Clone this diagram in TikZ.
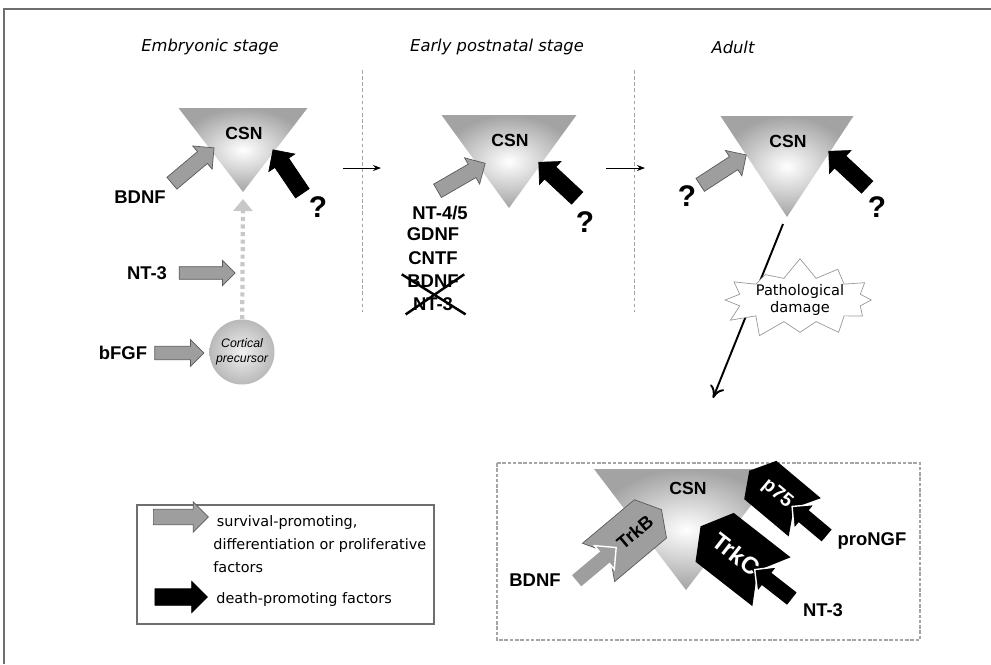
\documentclass[tikz,border=0pt]{standalone}
\usepackage{fontspec}
\setmainfont{Liberation Sans}
\newfontfamily\comicfont{DejaVu Sans}
\usepackage{tikz}
\usetikzlibrary{shapes.arrows, shapes.symbols, arrows.meta}

\definecolor{framegray}{RGB}{110,110,110}
\definecolor{sepgray}{RGB}{165,165,165}
\definecolor{hatchgray}{RGB}{158,158,158}
\definecolor{hatchline}{RGB}{90,90,90}
\definecolor{dotgray}{RGB}{200,200,200}

\tikzset{
  csnshade/.style   = {inner color=white, outer color=gray!72},
  csnlabel/.style   = {font=\bfseries\fontsize{10}{12}\selectfont, inner sep=1pt},
  factor/.style     = {font=\bfseries\fontsize{10.5}{12}\selectfont, inner sep=1pt},
  query/.style      = {font=\bfseries\fontsize{17}{19}\selectfont, inner sep=0pt},
  stage/.style      = {font=\comicfont\itshape\fontsize{9.3}{11}\selectfont},
  legendtext/.style = {font=\comicfont\fontsize{8.2}{13}\selectfont, align=left, anchor=west, inner sep=0pt},
  survival/.style   = {single arrow, draw=hatchline, line width=0.4pt, fill=hatchgray, inner sep=4.2pt,
                       single arrow head extend=4.2pt, minimum height=#1},
  survival/.default = 1.1cm,
  death/.style      = {single arrow, draw=black, fill=black, inner sep=4.5pt,
                       single arrow head extend=4.2pt, minimum height=#1},
  death/.default    = 1.05cm,
  receptor/.style   = {signal, signal pointer angle=120, inner sep=0pt},
  stagesep/.style   = {sepgray, line width=0.5pt, dash pattern=on 2pt off 1.5pt},
  stagearrow/.style = {-{Stealth[length=1.6mm]}, line width=0.5pt},
}

\begin{document}
\begin{tikzpicture}[x=0.02cm, y=-0.02cm]
    \useasboundingbox (0,0) rectangle (991,664);

    % outer frame (only top and left visible)
    \draw[framegray, line width=1pt] (4,664) -- (4,9) -- (991,9);

    % stage titles
    \node[stage] (tEmb)   at (210,47) {Embryonic stage};
    \node[stage] (tPost)  at (497,47) {Early postnatal stage};
    \node[stage] (tAdult) at (733,47) {Adult};

    % stage separators
    \draw[stagesep] (362,70) -- (362,312);
    \draw[stagesep] (634,70) -- (634,312);

    % arrows between stages
    \coordinate (sA1) at (343,168); \coordinate (sA2) at (381,168);
    \coordinate (sB1) at (606,168); \coordinate (sB2) at (645,168);
    \draw[stagearrow] (sA1) -- (sA2);
    \draw[stagearrow] (sB1) -- (sB2);

    % CSN triangles
    \foreach \cx/\ty/\w/\h/\nm in {243/108/129/84/A, 509/115/135/93/B, 787/116/133/101/C}{
      \shade[csnshade] (\cx-\w/2,\ty) -- (\cx+\w/2,\ty) -- (\cx,\ty+\h) -- cycle;
      \node[csnlabel] (csn\nm) at (\cx+1,\ty+25) {CSN};
      \coordinate (apex\nm) at (\cx,\ty+\h);
    }

    % embryonic stage
    \node[survival] (aBDNF) at (190,168) [rotate=40] {};
    \node[factor] (lBDNF) at (140,197) {BDNF};
    \node[death] (dEmb) at (290,175) [rotate=124] {};
    \node[query] (qEmb) at (318,207) {?};

    \node[circle, minimum size=1.3cm, inner sep=0pt, inner color=gray!12, outer color=gray!55,
          font=\itshape\fontsize{7}{8.5}\selectfont, align=center] (prec) at (242,352) {Cortical\\precursor};
    \draw[dotgray, line width=2.4pt, dash pattern=on 2.3pt off 2pt,
          -{Triangle[length=2.4mm, width=3.8mm]}] (prec) -- ([yshift=-4pt]apexA);

    \node[survival=1.12cm, inner sep=3.4pt, single arrow head extend=3.6pt] (aNT) at (204,273) {};
    \node[factor] (lNT) at (147,273) {NT-3};
    \node[survival=0.98cm, inner sep=3.6pt, single arrow head extend=3.8pt] (aFGF) at (176,353) {};
    \node[factor] (lFGF) at (123,353) {bFGF};

    % early postnatal stage
    \node[survival] (aPost) at (458,179) [rotate=30] {};
    \node[death] (dPost) at (561,183) [rotate=137] {};
    \node[query] (qPost) at (585,222) {?};
    \node[factor] (fNT45) at (440,213) {NT-4/5};
    \node[factor] (fGDNF) at (433,234) {GDNF};
    \node[factor] (fCNTF) at (433,258) {CNTF};
    \node[factor] (fBDNF) at (433,281) {BDNF};
    \node[factor] (fNT3)  at (433,304) {NT-3};
    \draw[line width=1.4pt] ([xshift=-2pt, yshift=-1pt]fBDNF.north west) -- ([xshift=6pt, yshift=-1pt]fNT3.south east);
    \draw[line width=1.4pt] ([xshift=2pt, yshift=-1pt]fBDNF.north east) -- ([xshift=-3pt, yshift=-1pt]fNT3.south west);

    % adult
    \node[survival] (aAdult) at (720,172) [rotate=33] {};
    \node[query] (qAdultL) at (687,196) {?};
    \node[death] (dAdult) at (851,172) [rotate=137] {};
    \node[query] (qAdultR) at (877,207) {?};

    % pathological damage
    \coordinate (dropC) at (783,224);
    \coordinate (boxin) at (713,398);
    \draw[line width=1.1pt, -{To[length=2.4mm, width=3mm]}] (dropC) -- (boxin);
    \node[starburst, draw=gray!80, line width=0.4pt, fill=white, starburst points=12,
          starburst point height=0.55cm, random starburst=31, minimum width=2.3cm, minimum height=1.15cm,
          font=\comicfont\fontsize{8.3}{10}\selectfont, align=center, inner sep=0pt] (damage) at (800,300) {Pathological\\damage};

    % receptor box
    \draw[sepgray, line width=0.6pt, dash pattern=on 2pt off 1pt] (497,463) rectangle (920,640);
    \shade[csnshade] (594,469) -- (779,469) -- (686,590) -- cycle;
    \node[csnlabel] (csnD) at (688,488) {CSN};

    \node[receptor, signal to=west, signal from=east, fill=black, rotate=-40, minimum width=1.45cm, minimum height=1.0cm,
          text=white, font=\bfseries\fontsize{11}{12}\selectfont] (p75) at (777,494) {p75\hspace{5pt}};
    \node[receptor, signal to=west, signal from=east, fill=black, rotate=-38, minimum width=1.8cm, minimum height=1.24cm,
          text=white, font=\bfseries\fontsize{13.5}{15}\selectfont] (TrkC) at (736,554) {TrkC\hspace{9pt}};
    \node[receptor, signal to=east, signal from=west, fill=hatchgray, draw=hatchline, line width=0.4pt, rotate=40,
          minimum width=1.6cm, minimum height=1.0cm, font=\bfseries\fontsize{10.5}{12}\selectfont] (TrkB) at (630,536) {\hspace{7pt}TrkB};

    \node[survival=1.05cm, draw=white, line width=0.8pt] (aBox) at (593,567) [rotate=40] {};
    \node[factor] (lBoxBDNF) at (535,580) {BDNF};
    \node[death=0.96cm, draw=white, line width=0.8pt] (dNT3) at (777,587) [rotate=142] {};
    \node[factor] (lBoxNT3) at (823,610) {NT-3};
    \node[death=0.92cm, draw=white, line width=0.8pt] (dNGF) at (813,524) [rotate=140] {};
    \node[factor] (lNGF) at (872,541) {proNGF};

    % legend
    \draw[framegray, line width=0.6pt] (137,505) rectangle (434,624);
    \node[survival] (legS) at (177,517) {};
    \node[death] (legD) at (177,597) {};
    \node[legendtext] (legSt) at (213,544) {\hspace{2pt}survival-promoting,\\differentiation or proliferative\\factors};
    \node[legendtext] (legDt) at (216,600) {death-promoting factors};
  \end{tikzpicture}
\end{document}
